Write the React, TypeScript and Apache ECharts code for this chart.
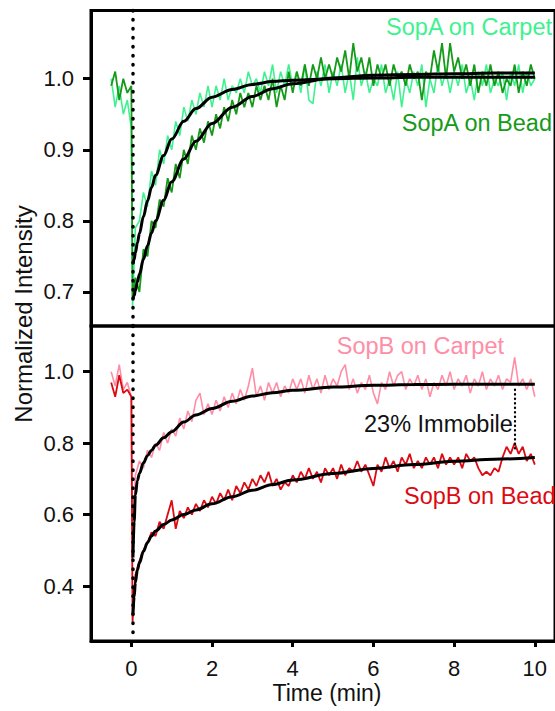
import React, { useEffect, useRef } from "react";
import * as echarts from "echarts";

// ---------- DATA ----------
const TIME = [
  -0.5, -0.4, -0.3, -0.2, -0.1, 0, 0.03,
  0.1, 0.2, 0.3, 0.4, 0.5, 0.6, 0.7, 0.8, 0.9, 1.0,
  1.1, 1.2, 1.3, 1.4, 1.5, 1.6, 1.7, 1.8, 1.9, 2.0,
  2.1, 2.2, 2.3, 2.4, 2.5, 2.6, 2.7, 2.8, 2.9, 3.0,
  3.1, 3.2, 3.3, 3.4, 3.5, 3.6, 3.7, 3.8, 3.9, 4.0,
  4.1, 4.2, 4.3, 4.4, 4.5, 4.6, 4.7, 4.8, 4.9, 5.0,
  5.1, 5.2, 5.3, 5.4, 5.5, 5.6, 5.7, 5.8, 5.9, 6.0,
  6.1, 6.2, 6.3, 6.4, 6.5, 6.6, 6.7, 6.8, 6.9, 7.0,
  7.1, 7.2, 7.3, 7.4, 7.5, 7.6, 7.7, 7.8, 7.9, 8.0,
  8.1, 8.2, 8.3, 8.4, 8.5, 8.6, 8.7, 8.8, 8.9, 9.0,
  9.1, 9.2, 9.3, 9.4, 9.5, 9.6, 9.7, 9.8, 9.9, 10.0,
];

const SOPA_CARPET = [
  1.0, 0.96, 0.99, 0.95, 0.97, 0.93, 0.68,
  0.79, 0.8, 0.84, 0.82, 0.87, 0.85, 0.9, 0.88, 0.92, 0.9,
  0.94, 0.92, 0.96, 0.94, 0.97, 0.95, 0.98, 0.96, 0.99, 0.96,
  0.99, 0.97, 1.0, 0.97, 0.99, 0.98, 1.0, 0.98, 1.01, 0.99,
  1.0, 0.98, 1.01, 0.99, 1.02, 0.98, 1.01, 0.99, 1.02, 0.99,
  1.01, 0.98, 1.02, 0.97, 0.965, 1.01, 0.99, 1.02, 0.98, 1.01,
  0.99, 1.02, 0.98, 1.01, 0.97, 1.03, 0.99, 1.01, 0.98, 1.0,
  0.99, 1.02, 0.98, 1.0, 0.97, 1.01, 0.96, 1.0, 0.98, 1.01,
  0.99, 1.02, 0.96, 1.0, 0.98, 1.02, 0.99, 1.01, 0.98, 1.01,
  0.99, 1.02, 0.98, 1.0, 0.97, 1.01, 0.99, 1.02, 0.98, 1.0,
  0.99, 1.01, 0.97, 1.01, 0.99, 1.02, 0.98, 1.01, 0.99, 1.0,
];

const SOPA_BEAD = [
  0.99, 1.01, 0.97, 1.0, 0.98, 0.99, 0.69,
  0.72, 0.7, 0.76, 0.75, 0.8, 0.79, 0.83, 0.82, 0.86, 0.84,
  0.88, 0.86, 0.9, 0.88, 0.92, 0.9, 0.93, 0.91, 0.94, 0.92,
  0.95, 0.93, 0.96, 0.94, 0.97, 0.95, 0.98, 0.96, 0.98, 0.96,
  0.99, 0.97, 0.99, 0.97, 1.0, 0.96, 0.99, 0.97, 1.01, 0.98,
  1.01, 0.99, 1.02, 0.99, 1.02, 1.0, 1.03, 1.0, 1.02, 1.0,
  1.03, 1.01, 1.04, 1.0, 1.05, 1.01, 1.03, 1.0, 1.03, 0.99,
  1.02, 1.0, 1.02, 0.99, 1.02, 1.0, 1.01, 0.99, 1.02, 1.0,
  1.01, 0.97, 1.01, 1.0, 1.04, 1.01, 1.05, 1.0, 1.05, 1.01,
  1.03, 1.0, 1.02, 0.99, 1.02, 0.98, 1.01, 0.99, 1.02, 0.99,
  1.01, 0.98, 1.0, 0.99, 1.02, 0.98, 1.01, 0.99, 1.02, 1.0,
];

const SOPB_CARPET = [
  1.0, 0.96, 1.02, 0.95, 0.97, 0.93, 0.5,
  0.71, 0.75, 0.73, 0.78, 0.76, 0.8, 0.78, 0.83, 0.8, 0.84,
  0.82, 0.87, 0.84, 0.89, 0.86, 0.92, 0.94, 0.88, 0.91, 0.88,
  0.92, 0.89, 0.93, 0.9, 0.94, 0.91, 0.95, 0.92, 0.96, 1.01,
  0.93, 0.96, 0.92, 0.97, 0.94, 0.97, 0.93, 0.96, 0.94, 0.98,
  0.95, 0.98, 0.94, 0.99, 0.95, 0.98, 0.94, 0.99, 0.95, 0.98,
  0.96, 1.0, 1.02, 0.95, 0.98, 0.94, 0.97, 0.95, 0.99, 0.94,
  0.91, 0.97, 0.95, 1.0, 0.96, 0.99, 1.0, 0.95, 0.98, 0.96,
  0.99, 0.95, 0.98, 0.93, 0.97, 0.95, 0.99, 0.96, 1.0, 0.95,
  0.98, 0.96, 0.99, 0.94, 0.98, 0.96, 1.0, 0.95, 0.98, 0.96,
  0.99, 0.95, 0.98, 0.97, 1.04, 0.96, 0.98, 0.95, 0.98, 0.93,
];

const SOPB_BEAD = [
  0.97, 0.93, 0.99, 0.94, 0.95, 0.93, 0.3,
  0.43, 0.47, 0.5, 0.52, 0.55, 0.54, 0.58, 0.56, 0.6, 0.64,
  0.56, 0.61, 0.59, 0.62, 0.6, 0.63, 0.61, 0.64, 0.62, 0.65,
  0.63, 0.66, 0.64, 0.67, 0.64, 0.68, 0.66, 0.69, 0.67, 0.7,
  0.68, 0.71, 0.69, 0.72, 0.68, 0.7, 0.67, 0.69, 0.68, 0.71,
  0.69, 0.72, 0.7, 0.73, 0.7, 0.72, 0.69, 0.73, 0.71, 0.73,
  0.7, 0.74, 0.71, 0.73, 0.72, 0.75, 0.72, 0.74, 0.71, 0.68,
  0.74, 0.72, 0.76, 0.73, 0.75, 0.72, 0.76, 0.74, 0.77, 0.73,
  0.75, 0.73, 0.76, 0.74, 0.76, 0.73, 0.77, 0.74, 0.76, 0.74,
  0.76, 0.73, 0.77, 0.75, 0.76, 0.73, 0.71, 0.72, 0.71, 0.73,
  0.72, 0.76, 0.79, 0.77, 0.8, 0.77, 0.79, 0.75, 0.77, 0.74,
];

const FIT_TIME = [0.04, 0.07, 0.1, 0.15, 0.2, 0.3, 0.4, 0.5, 0.6, 0.8, 1.0, 1.3, 1.6, 2.0, 2.5, 3.0, 3.5, 4.0, 5.0, 6.0, 7.0, 8.0, 9.0, 10.0];
const FIT_SOPA_CARPET = [0.74, 0.746, 0.755, 0.769, 0.782, 0.806, 0.828, 0.847, 0.864, 0.892, 0.915, 0.94, 0.958, 0.974, 0.985, 0.992, 0.996, 0.998, 1.0, 1.001, 1.002, 1.002, 1.002, 1.002];
const FIT_SOPA_BEAD = [0.69, 0.695, 0.702, 0.714, 0.725, 0.746, 0.765, 0.783, 0.8, 0.829, 0.855, 0.887, 0.912, 0.937, 0.96, 0.975, 0.986, 0.993, 1.001, 1.005, 1.006, 1.007, 1.008, 1.008];
const FIT_SOPB_CARPET = [0.48, 0.58, 0.655, 0.695, 0.715, 0.745, 0.765, 0.78, 0.794, 0.815, 0.832, 0.859, 0.879, 0.897, 0.917, 0.932, 0.941, 0.948, 0.957, 0.962, 0.964, 0.965, 0.965, 0.965];
const FIT_SOPB_BEAD = [0.32, 0.37, 0.41, 0.445, 0.465, 0.497, 0.522, 0.54, 0.554, 0.572, 0.585, 0.6, 0.613, 0.63, 0.65, 0.668, 0.684, 0.697, 0.715, 0.729, 0.74, 0.749, 0.755, 0.76];

const X_TICKS = [0, 2, 4, 6, 8, 10];
const TOP_Y_TICKS = [0.7, 0.8, 0.9, 1.0];
const BOTTOM_Y_TICKS = [0.4, 0.6, 0.8, 1.0];

const BLEACH_TIME = 0.03;
const IMMOBILE_TIME = 9.5;
const IMMOBILE_FROM = 0.95;
const IMMOBILE_TO = 0.785;

// ---------- STYLE ----------
const FONT = '"Liberation Sans", Arial, Helvetica, sans-serif';
const C_LGREEN = "#3ef28f";
const C_DGREEN = "#169a1a";
const C_PINK = "#ff8da6";
const C_RED = "#dc0a12";

const pairs = (xs: number[], ys: number[]) => xs.map((x, i) => [x, ys[i]]);

export default function App() {
  const ref = useRef<HTMLDivElement>(null);

  useEffect(() => {
    if (!ref.current) return;
    const chart = echarts.init(ref.current, undefined, { renderer: "svg" });

    const tickStyle = { color: "#000", width: 3 };
    const labelBase = { fontSize: 22, color: "#111", fontFamily: FONT };
    const axisLineStyle = { show: true, onZero: false, lineStyle: { color: "#000", width: 3 } };

    const dotted = {
      color: "#000",
      width: 3.5,
      type: [0.5, 8.5] as any,
      cap: "round" as any,
    };

    const traceSeries = (name: string, data: number[][], color: string, width: number, axis: number) => ({
      name,
      type: "line",
      xAxisIndex: axis,
      yAxisIndex: axis,
      data,
      showSymbol: false,
      symbol: "none",
      lineStyle: { color, width },
      silent: true,
    });

    const fitSeries = (name: string, data: number[][], axis: number) => ({
      name,
      type: "line",
      xAxisIndex: axis,
      yAxisIndex: axis,
      data,
      smooth: 0.35,
      smoothMonotone: "x",
      showSymbol: false,
      symbol: "none",
      lineStyle: { color: "#000", width: 3 },
      silent: true,
    });

    const option: any = {
      animation: false,
      backgroundColor: "#fff",
      grid: [
        { left: 91, top: 10.5, width: 470, height: 315.5, show: true, borderColor: "#000", borderWidth: 3, backgroundColor: "transparent" },
        { left: 91, top: 326, width: 470, height: 315, show: true, borderColor: "#000", borderWidth: 3, backgroundColor: "transparent" },
      ],
      xAxis: [
        { type: "value", gridIndex: 0, min: -1, max: 10.5, show: false },
        {
          type: "value",
          gridIndex: 1,
          min: -1,
          max: 10.5,
          position: "bottom",
          splitLine: { show: false },
          axisLine: axisLineStyle,
          axisTick: { show: true, inside: false, length: 6, lineStyle: tickStyle, customValues: X_TICKS },
          axisLabel: { ...labelBase, margin: 16, customValues: X_TICKS, formatter: (v: number) => String(v) },
        },
      ],
      yAxis: [
        {
          type: "value",
          gridIndex: 0,
          min: 0.652,
          max: 1.096,
          position: "left",
          splitLine: { show: false },
          axisLine: axisLineStyle,
          axisTick: { show: true, inside: false, length: 8, lineStyle: tickStyle, customValues: TOP_Y_TICKS },
          axisLabel: { ...labelBase, margin: 17, customValues: TOP_Y_TICKS, formatter: (v: number) => v.toFixed(1) },
        },
        {
          type: "value",
          gridIndex: 1,
          min: 0.246,
          max: 1.128,
          position: "left",
          splitLine: { show: false },
          axisLine: axisLineStyle,
          axisTick: { show: true, inside: false, length: 8, lineStyle: tickStyle, customValues: BOTTOM_Y_TICKS },
          axisLabel: { ...labelBase, margin: 17, customValues: BOTTOM_Y_TICKS, formatter: (v: number) => v.toFixed(1) },
        },
      ],
      series: [
        {
          ...traceSeries("SopA on Carpet", pairs(TIME, SOPA_CARPET), C_LGREEN, 1.6, 0),
          markLine: {
            silent: true,
            symbol: "none",
            label: { show: false },
            lineStyle: dotted,
            data: [{ xAxis: BLEACH_TIME }],
          },
        },
        traceSeries("SopA on Bead", pairs(TIME, SOPA_BEAD), C_DGREEN, 1.8, 0),
        fitSeries("SopA on Carpet fit", pairs(FIT_TIME, FIT_SOPA_CARPET), 0),
        fitSeries("SopA on Bead fit", pairs(FIT_TIME, FIT_SOPA_BEAD), 0),
        {
          ...traceSeries("SopB on Carpet", pairs(TIME, SOPB_CARPET), C_PINK, 1.6, 1),
          markLine: {
            silent: true,
            symbol: "none",
            label: { show: false },
            lineStyle: dotted,
            data: [[{ coord: [BLEACH_TIME, 1.128] }, { coord: [BLEACH_TIME, 0.27] }]],
          },
        },
        traceSeries("SopB on Bead", pairs(TIME, SOPB_BEAD), C_RED, 1.8, 1),
        fitSeries("SopB on Carpet fit", pairs(FIT_TIME, FIT_SOPB_CARPET), 1),
        {
          ...fitSeries("SopB on Bead fit", pairs(FIT_TIME, FIT_SOPB_BEAD), 1),
          markLine: {
            silent: true,
            symbol: "none",
            label: { show: false },
            lineStyle: { color: "#000", width: 2.2, type: [0.5, 4] as any, cap: "round" as any },
            data: [[{ coord: [IMMOBILE_TIME, IMMOBILE_FROM] }, { coord: [IMMOBILE_TIME, IMMOBILE_TO] }]],
          },
        },
      ],
      graphic: [
        {
          type: "text",
          x: 23,
          y: 314,
          rotation: Math.PI / 2,
          style: { text: "Normalized Intensity", font: `24px ${FONT}`, fill: "#111", align: "center", verticalAlign: "middle" },
        },
        {
          type: "text",
          x: 327,
          y: 693,
          style: { text: "Time (min)", font: `23px ${FONT}`, fill: "#111", align: "center", verticalAlign: "middle" },
        },
        {
          type: "text",
          x: 552,
          y: 27,
          style: { text: "SopA on Carpet", font: `23.5px ${FONT}`, fill: C_LGREEN, align: "right", verticalAlign: "middle" },
        },
        {
          type: "text",
          x: 552,
          y: 122.5,
          style: { text: "SopA on Bead", font: `23.5px ${FONT}`, fill: C_DGREEN, align: "right", verticalAlign: "middle" },
        },
        {
          type: "text",
          x: 504,
          y: 346,
          style: { text: "SopB on Carpet", font: `23.5px ${FONT}`, fill: C_PINK, align: "right", verticalAlign: "middle" },
        },
        {
          type: "text",
          x: 404,
          y: 496,
          style: { text: "SopB on Bead", font: `23.5px ${FONT}`, fill: C_RED, align: "left", verticalAlign: "middle" },
        },
        {
          type: "text",
          x: 364,
          y: 424,
          style: { text: "23% Immobile", font: `23.5px ${FONT}`, fill: "#111", align: "left", verticalAlign: "middle" },
        },
      ],
    };

    chart.setOption(option);
    return () => chart.dispose();
  }, []);

  return (
    <div
      ref={ref}
      style={{ position: "fixed", left: 0, top: 0, width: 555, height: 711, background: "#fff" }}
    />
  );
}
